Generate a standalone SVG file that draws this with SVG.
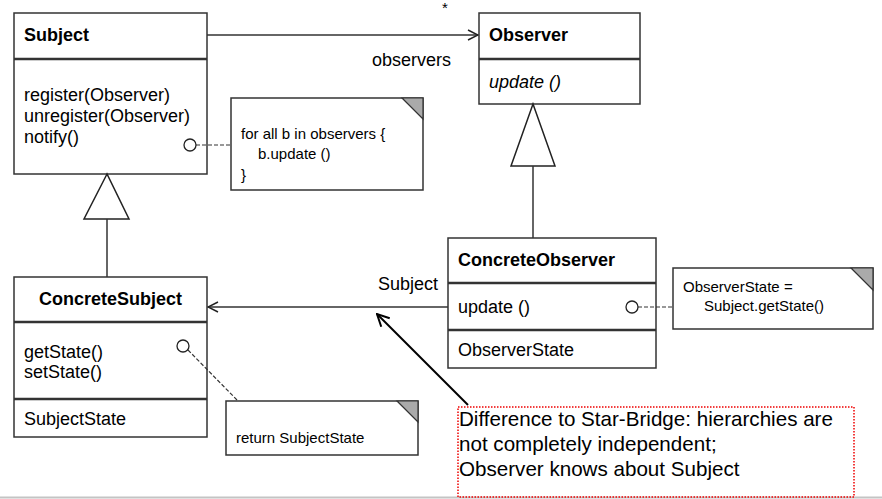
<svg xmlns="http://www.w3.org/2000/svg" width="882" height="499" viewBox="0 0 882 499">
<style>
text{font-family:"Liberation Sans",Arial,sans-serif;fill:#000}
.t{font-size:18px}
.b{font-size:18px;font-weight:bold}
.n{font-size:15px}
.r{font-size:20.6px}
.box{fill:#fff;stroke:#333;stroke-width:1.5}
.div{stroke:#333;stroke-width:2.5}
.ln{fill:none;stroke:#333;stroke-width:1.5}
.dash{fill:none;stroke:#333;stroke-width:1.2;stroke-dasharray:4 2}
.circ{fill:#fff;stroke:#222;stroke-width:1.3}
.fold{fill:#aaa;stroke:#333;stroke-width:1.2}
</style>
<defs>
<marker id="open" viewBox="0 0 12 12" refX="11" refY="6" markerWidth="12" markerHeight="12" markerUnits="userSpaceOnUse" orient="auto">
<path d="M1,1 L11,6 L1,11" fill="none" stroke="#222" stroke-width="1.5"/>
</marker>
<marker id="open2" viewBox="0 0 14 14" refX="13" refY="7" markerWidth="14" markerHeight="14" markerUnits="userSpaceOnUse" orient="auto">
<path d="M1,1 L13,7 L1,13" fill="none" stroke="#000" stroke-width="2"/>
</marker>
</defs>
<line x1="0" y1="497.5" x2="882" y2="497.5" stroke="#c4c4c4" stroke-width="2"/>
<g id="Subject">
<rect class="box" x="14" y="13" width="193" height="161"/>
<line class="div" x1="14" y1="59" x2="207" y2="59"/>
<text class="b" x="24" y="41">Subject</text>
<text class="t" x="24" y="101">register(Observer)</text>
<text class="t" x="24" y="122">unregister(Observer)</text>
<text class="t" x="24" y="143">notify()</text>
</g>
<g id="note1">
<path class="box" d="M231,98 H423 V190 H231 Z"/>
<path class="fold" d="M402,98 H423 V119 Z"/>
<text class="n" x="241" y="139">for all b in observers {</text>
<text class="n" x="258" y="159">b.update ()</text>
<text class="n" x="241" y="180">}</text>
</g>
<g id="Observer">
<rect class="box" x="479" y="13" width="161" height="91"/>
<line class="div" x1="479" y1="59" x2="640" y2="59"/>
<text class="b" x="489" y="41">Observer</text>
<text class="t" x="489" y="88" font-style="italic">update ()</text>
</g>
<g id="ConcreteObserver">
<rect class="box" x="448" y="238" width="208" height="130"/>
<line class="div" x1="448" y1="283" x2="656" y2="283"/>
<line class="div" x1="448" y1="330" x2="656" y2="330"/>
<text class="b" x="458" y="266">ConcreteObserver</text>
<text class="t" x="458" y="313">update ()</text>
<text class="t" x="458" y="356">ObserverState</text>
</g>
<g id="note3">
<path class="box" d="M673,268 H873 V329 H673 Z"/>
<path class="fold" d="M851,268 H873 V290 Z"/>
<text class="n" x="683" y="292">ObserverState =</text>
<text class="n" x="704" y="311">Subject.getState()</text>
</g>
<g id="ConcreteSubject">
<rect class="box" x="14" y="277" width="193" height="160"/>
<line class="div" x1="14" y1="322" x2="207" y2="322"/>
<line class="div" x1="14" y1="399" x2="207" y2="399"/>
<text class="b" x="110.5" y="305" text-anchor="middle">ConcreteSubject</text>
<text class="t" x="24" y="358">getState()</text>
<text class="t" x="24" y="378">setState()</text>
<text class="t" x="24" y="425">SubjectState</text>
</g>
<g id="note2">
<path class="box" d="M226,401 H418 V455 H226 Z"/>
<path class="fold" d="M397,401 H418 V422 Z"/>
<text class="n" x="236" y="443">return SubjectState</text>
</g>
<g id="remark">
<rect x="458" y="407" width="396" height="90" fill="none" stroke="#e00" stroke-width="1.5" stroke-dasharray="1.5 1.5"/>
<text class="r" x="459" y="426">Difference to Star-Bridge: hierarchies are</text>
<text class="r" x="459" y="451">not completely independent;</text>
<text class="r" x="459" y="476">Observer knows about Subject</text>
</g>
<g id="connectors">
<line class="ln" x1="207" y1="35" x2="478" y2="35" marker-end="url(#open)"/>
<text x="442" y="13" style="font-size:15px">*</text>
<text class="t" x="372" y="66">observers</text>
<polygon points="533,104 511,166 555,166" fill="#fff" stroke="#222" stroke-width="1.5"/>
<line class="ln" x1="533" y1="166" x2="533" y2="238"/>
<polygon points="107,174 84,219 129,219" fill="#fff" stroke="#222" stroke-width="1.5"/>
<line class="ln" x1="107" y1="219" x2="107" y2="277"/>
<line class="ln" x1="448" y1="307" x2="208" y2="307" marker-end="url(#open)"/>
<text class="t" x="378" y="290">Subject</text>
<line class="dash" x1="196" y1="145" x2="231" y2="145"/>
<circle class="circ" cx="190" cy="145" r="6"/>
<line class="dash" x1="638" y1="307" x2="673" y2="307"/>
<circle class="circ" cx="632" cy="307" r="6"/>
<line class="dash" x1="188" y1="350" x2="238" y2="401"/>
<circle class="circ" cx="183" cy="346" r="6"/>
<line x1="468" y1="405" x2="377" y2="314" fill="none" stroke="#000" stroke-width="2" marker-end="url(#open2)"/>
</g>
</svg>
